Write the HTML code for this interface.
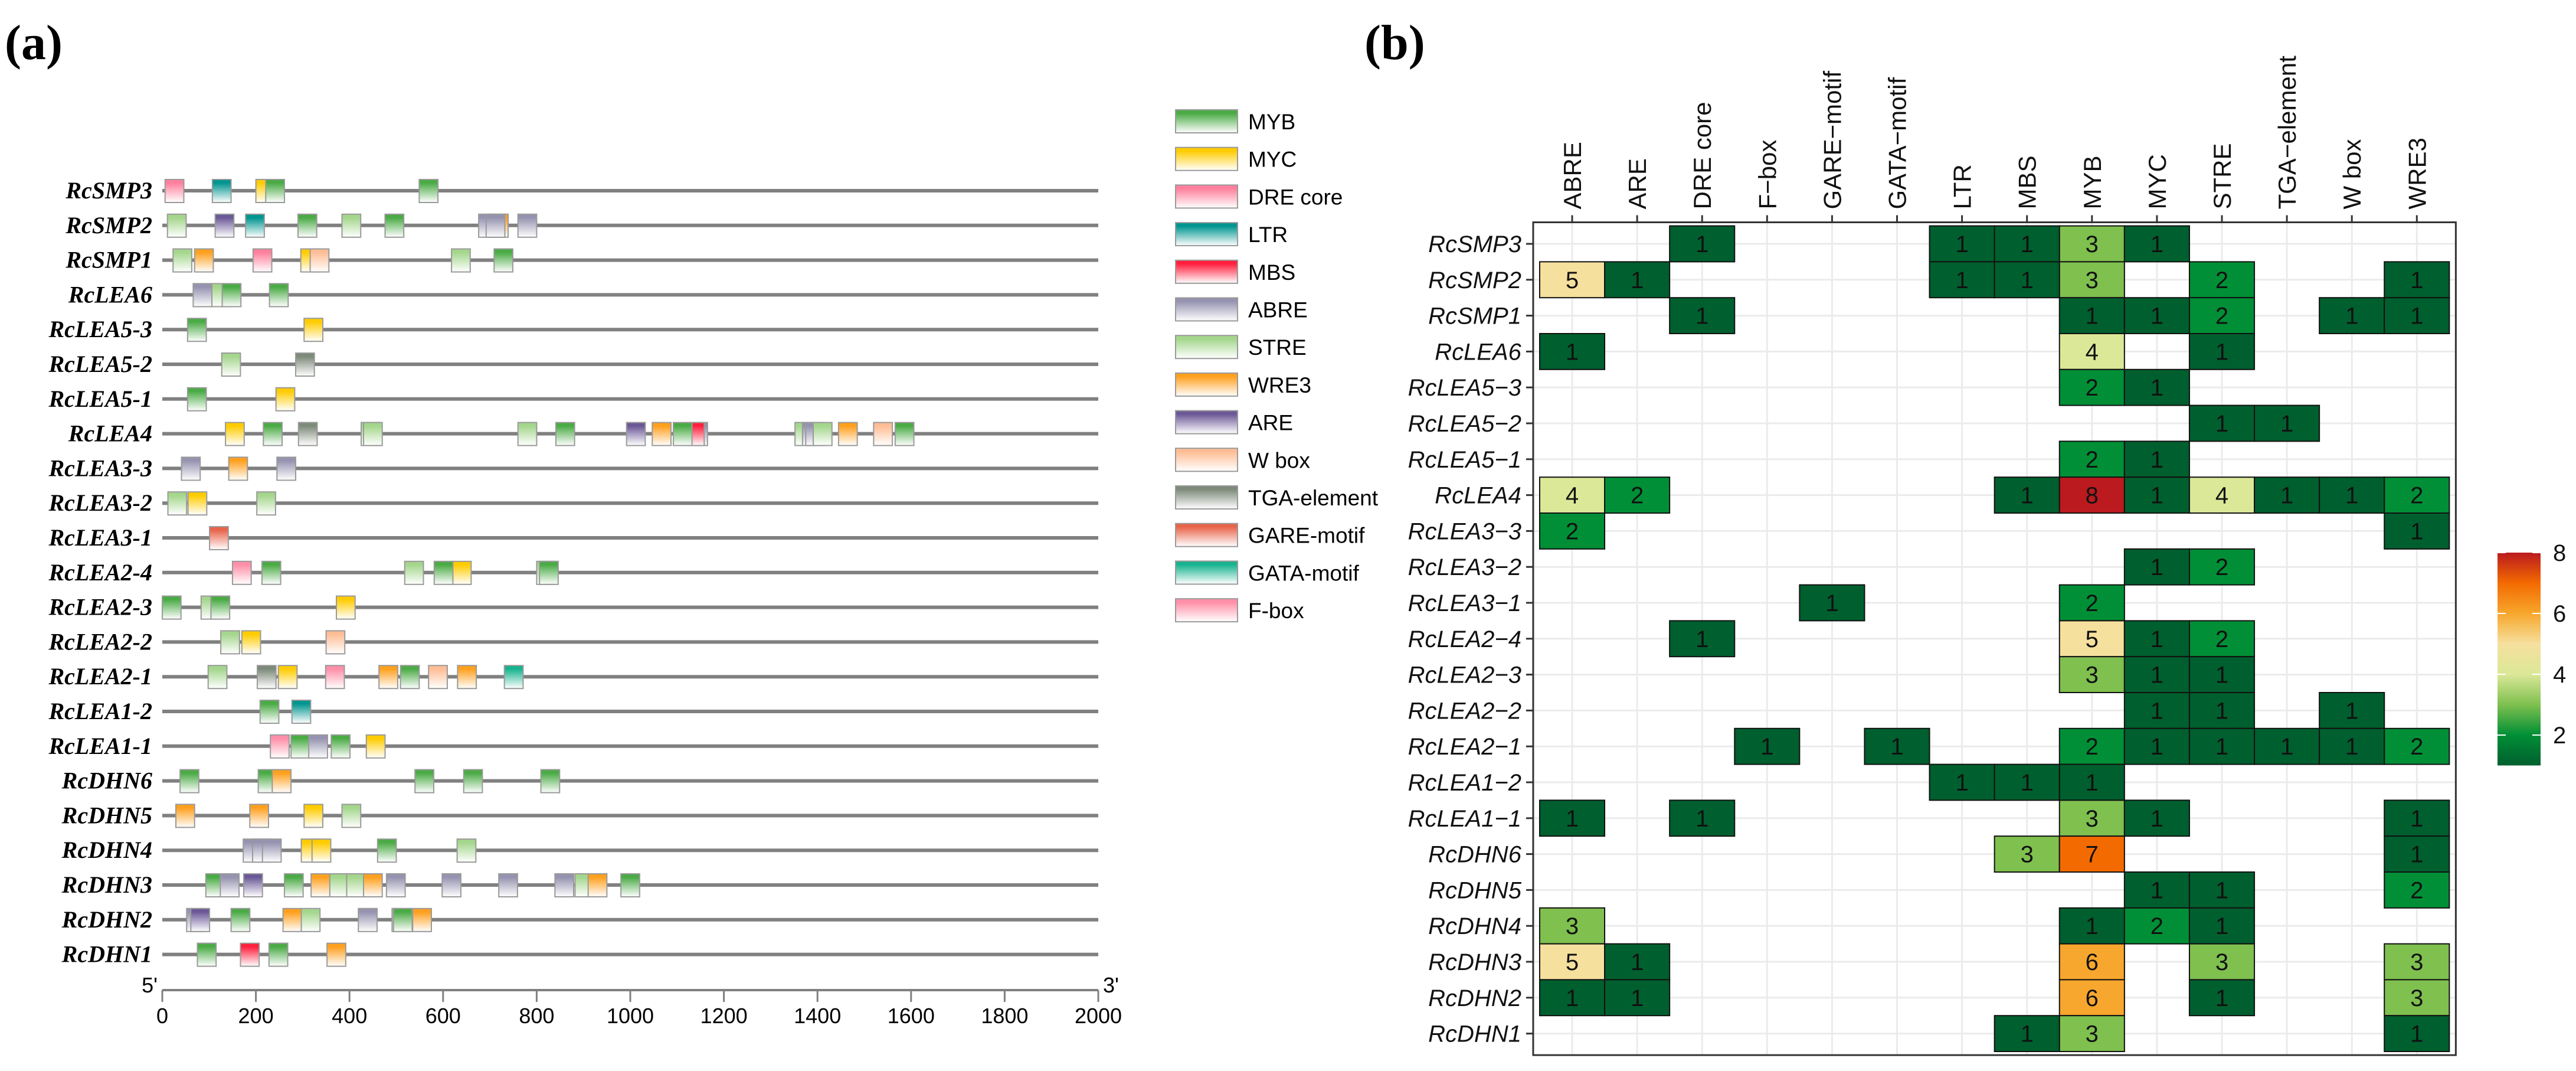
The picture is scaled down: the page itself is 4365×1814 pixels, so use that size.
<!DOCTYPE html>
<html><head><meta charset="utf-8"><style>
html,body{margin:0;padding:0;background:#fff}
svg{display:block}
.sans{font-family:"Liberation Sans",Arial,sans-serif}
.serif{font-family:"Liberation Serif","Times New Roman",serif}
</style></head><body>
<svg id="fig" width="4365" height="1814" viewBox="0 0 4365 1814" xmlns="http://www.w3.org/2000/svg">
<rect x="0" y="0" width="4365" height="1814" fill="#ffffff"/>
<defs id="defs"></defs>
<text x="8" y="100" class="serif" font-size="84" font-weight="bold">(a)</text>
<text x="2312" y="100" class="serif" font-size="84" font-weight="bold">(b)</text>
<g id="panelA"></g>
<g id="legendA"></g>
<g id="panelB"></g>
<g id="cbar"></g>
</svg>
<script>
const NS="http://www.w3.org/2000/svg";
// ---------- data ----------
const genes=["RcSMP3","RcSMP2","RcSMP1","RcLEA6","RcLEA5-3","RcLEA5-2","RcLEA5-1","RcLEA4","RcLEA3-3","RcLEA3-2","RcLEA3-1","RcLEA2-4","RcLEA2-3","RcLEA2-2","RcLEA2-1","RcLEA1-2","RcLEA1-1","RcDHN6","RcDHN5","RcDHN4","RcDHN3","RcDHN2","RcDHN1"];
const motifTypes=["MYB","MYC","DRE core","LTR","MBS","ABRE","STRE","WRE3","ARE","W box","TGA-element","GARE-motif","GATA-motif","F-box"];
const motifColors=["#4aab45","#ffcc00","#ff7f9c","#00958f","#ff1f3d","#9593b0","#a4d68c","#ffa01e","#6b5897","#ffbd95","#7d8a7a","#e8644a","#16b38e","#ff8fa8"];
const axisTicks=[0,200,400,600,800,1000,1200,1400,1600,1800,2000];
const sites=[
 [["DRE core",6],["LTR",107],["MYC",200],["MYB",221],["MYB",549]],
 [["STRE",11],["ARE",113],["LTR",178],["MYB",290],["STRE",384],["MYB",476],["ABRE",676],["WRE3",699],["ABRE",692],["ABRE",760]],
 [["STRE",23],["WRE3",69],["DRE core",194],["MYC",296],["W box",316],["STRE",618],["MYB",709]],
 [["ABRE",66],["STRE",106],["MYB",128],["MYB",229]],
 [["MYB",54],["MYC",303]],
 [["STRE",127],["TGA-element",285]],
 [["MYB",54],["MYC",243]],
 [["MYC",135],["MYB",216],["TGA-element",291],["STRE",425],["STRE",430],["STRE",760],["MYB",841],["ARE",992],["WRE3",1047],["ABRE",1125],["MBS",1118],["MYB",1092],["STRE",1352],["ABRE",1368],["ABRE",1375],["STRE",1391],["WRE3",1445],["W box",1520],["MYB",1566]],
 [["ABRE",41],["WRE3",142],["ABRE",245]],
 [["STRE",12],["MYC",55],["STRE",202]],
 [["GARE-motif",101]],
 [["F-box",150],["MYB",213],["STRE",518],["MYC",620],["MYB",581],["STRE",800],["MYB",806]],
 [["MYB",0],["STRE",83],["MYB",104],["MYC",372]],
 [["STRE",125],["MYC",170],["W box",350]],
 [["STRE",98],["TGA-element",203],["MYC",248],["F-box",349],["WRE3",463],["MYB",509],["W box",569],["WRE3",631],["GATA-motif",731]],
 [["MYB",209],["LTR",277]],
 [["F-box",231],["MYB",275],["ABRE",313],["MYB",361],["MYC",436]],
 [["MYB",38],["MYB",205],["WRE3",235],["MYB",540],["MYB",644],["MYB",809]],
 [["WRE3",29],["WRE3",187],["MYC",303],["STRE",384]],
 [["ABRE",173],["ABRE",193],["ABRE",214],["MYC",297],["MYC",320],["MYB",460],["STRE",630]],
 [["MYB",93],["ABRE",124],["ARE",174],["MYB",261],["WRE3",318],["STRE",358],["STRE",394],["WRE3",430],["ABRE",479],["ABRE",598],["ABRE",719],["ABRE",839],["STRE",882],["WRE3",910],["MYB",980]],
 [["ABRE",52],["ARE",61],["MYB",147],["WRE3",258],["STRE",297],["ABRE",419],["STRE",491],["MYB",494],["WRE3",535]],
 [["MYB",75],["MBS",167],["MYB",228],["WRE3",352]]
];
const hmCols=["ABRE","ARE","DRE core","F\u2212box","GARE\u2212motif","GATA\u2212motif","LTR","MBS","MYB","MYC","STRE","TGA\u2212element","W box","WRE3"];
const hmVals=[
 [0,0,1,0,0,0,1,1,3,1,0,0,0,0],
 [5,1,0,0,0,0,1,1,3,0,2,0,0,1],
 [0,0,1,0,0,0,0,0,1,1,2,0,1,1],
 [1,0,0,0,0,0,0,0,4,0,1,0,0,0],
 [0,0,0,0,0,0,0,0,2,1,0,0,0,0],
 [0,0,0,0,0,0,0,0,0,0,1,1,0,0],
 [0,0,0,0,0,0,0,0,2,1,0,0,0,0],
 [4,2,0,0,0,0,0,1,8,1,4,1,1,2],
 [2,0,0,0,0,0,0,0,0,0,0,0,0,1],
 [0,0,0,0,0,0,0,0,0,1,2,0,0,0],
 [0,0,0,0,1,0,0,0,2,0,0,0,0,0],
 [0,0,1,0,0,0,0,0,5,1,2,0,0,0],
 [0,0,0,0,0,0,0,0,3,1,1,0,0,0],
 [0,0,0,0,0,0,0,0,0,1,1,0,1,0],
 [0,0,0,1,0,1,0,0,2,1,1,1,1,2],
 [0,0,0,0,0,0,1,1,1,0,0,0,0,0],
 [1,0,1,0,0,0,0,0,3,1,0,0,0,1],
 [0,0,0,0,0,0,0,3,7,0,0,0,0,1],
 [0,0,0,0,0,0,0,0,0,1,1,0,0,2],
 [3,0,0,0,0,0,0,0,1,2,1,0,0,0],
 [5,1,0,0,0,0,0,0,6,0,3,0,0,3],
 [1,1,0,0,0,0,0,0,6,0,1,0,0,3],
 [0,0,0,0,0,0,0,1,3,0,0,0,0,1]
];
const cbTicks=[2,4,6,8];
const palette=["#005f2e","#008f36","#7fc04f","#dbe898","#f6e09e","#f7a72d","#f36a00","#bb1a1f"];

// ---------- helpers ----------
function mk(tag,attrs,parent){const e=document.createElementNS(NS,tag);for(const k in attrs)e.setAttribute(k,attrs[k]);parent.appendChild(e);return e;}
const defsEl=document.getElementById('defs');
motifTypes.forEach((t,i)=>{
  const g=mk('linearGradient',{id:'g'+i,x1:0,y1:0,x2:0,y2:1},defsEl);
  mk('stop',{offset:'0','stop-color':motifColors[i]},g);
  mk('stop',{offset:'0.15','stop-color':motifColors[i]},g);
  mk('stop',{offset:'1','stop-color':'#ffffff'},g);
});
// ---------- panel A ----------
const A=document.getElementById('panelA');
const ax0=275, ax1=1861, bpMax=2000;
const xA=bp=>ax0+bp*(ax1-ax0)/bpMax;
const yA=i=>323+i*58.8;
const boxBp=40;
genes.forEach((gname,i)=>{
  const y=yA(i);
  const t=mk('text',{x:258,y:y+13,'text-anchor':'end','font-size':40,'font-weight':'bold','font-style':'italic',class:'serif'},A);
  t.textContent=gname;
  
  
  const ln=mk('line',{x1:ax0,x2:ax1,y1:y,y2:y,stroke:'#808080','stroke-width':6},A);
  
  
  sites[i].forEach(s=>{
    const k=motifTypes.indexOf(s[0]);
    const r=mk('rect',{x:xA(s[1]),y:y-19,width:xA(boxBp)-ax0,height:39,fill:'url(#g'+k+')',stroke:'#9a9a9a','stroke-width':2},A);
    
    
  });
});
const axisY=1677;
const axl=mk('line',{x1:ax0,x2:ax1,y1:axisY,y2:axisY,stroke:'#808080','stroke-width':4},A);


axisTicks.forEach(v=>{
  const tk=mk('line',{x1:xA(v),x2:xA(v),y1:axisY,y2:axisY+20,stroke:'#808080','stroke-width':3},A);
  
  
  const tl=mk('text',{x:xA(v),y:axisY+56,'text-anchor':'middle','font-size':36,class:'sans'},A);
  tl.textContent=v;
  
  
});
const p5=mk('text',{x:ax0-8,y:axisY+4,'text-anchor':'end','font-size':36,class:'sans'},A);p5.textContent="5'";


const p3=mk('text',{x:ax1+8,y:axisY+4,'font-size':36,class:'sans'},A);p3.textContent="3'";


// legend
const L=document.getElementById('legendA');
motifTypes.forEach((t,i)=>{
  const y=186+i*63.7;
  const r=mk('rect',{x:1992,y:y,width:105,height:39,fill:'url(#g'+i+')',stroke:'#9a9a9a','stroke-width':2},L);
  
  
  const tx=mk('text',{x:2115,y:y+33,'font-size':37,class:'sans'},L);
  tx.textContent=t;
  
  
});
// ---------- panel B ----------
const B=document.getElementById('panelB');
const cw=110.1, rh=60.8;
const xH=j=>2664+j*cw, yH=i=>413+i*rh;
const hmLeft=xH(0)-0.6*cw, hmRight=xH(hmCols.length-1)+0.6*cw, hmTop=yH(0)-0.6*rh, hmBot=yH(genes.length-1)+0.6*rh;
const bg=mk('rect',{x:hmLeft,y:hmTop,width:hmRight-hmLeft,height:hmBot-hmTop,fill:'#ffffff'},B);


hmCols.forEach((c,j)=>{
  const gl=mk('line',{x1:xH(j),x2:xH(j),y1:hmTop,y2:hmBot,stroke:'#ebebeb','stroke-width':3},B);
  
  
});
genes.forEach((g,i)=>{
  const gl=mk('line',{x1:hmLeft,x2:hmRight,y1:yH(i),y2:yH(i),stroke:'#ebebeb','stroke-width':3},B);
  
  
});
hmVals.forEach((row,i)=>row.forEach((v,j)=>{
  if(!v)return;
  const r=mk('rect',{x:xH(j)-cw/2,y:yH(i)-rh/2,width:cw,height:rh,fill:palette[v-1],stroke:'#111','stroke-width':2},B);
  
  
  const t=mk('text',{x:xH(j),y:yH(i)+14,'text-anchor':'middle','font-size':40,class:'sans',fill:'#111'},B);
  t.textContent=v;
  
  
}));
const fr=mk('rect',{x:hmLeft,y:hmTop,width:hmRight-hmLeft,height:hmBot-hmTop,fill:'none',stroke:'#333','stroke-width':3},B);


hmCols.forEach((c,j)=>{
  const tk=mk('line',{x1:xH(j),x2:xH(j),y1:hmTop-12,y2:hmTop,stroke:'#333','stroke-width':3},B);
  
  
  const t=mk('text',{x:0,y:0,transform:'translate('+(xH(j)+15)+','+(hmTop-22)+') rotate(-90)','font-size':42,class:'sans',fill:'#111'},B);
  t.textContent=c;
  
  
});
genes.forEach((g,i)=>{
  const tk=mk('line',{x1:hmLeft-12,x2:hmLeft,y1:yH(i),y2:yH(i),stroke:'#333','stroke-width':3},B);
  
  
  const t=mk('text',{x:hmLeft-20,y:yH(i)+14,'text-anchor':'end','font-size':40,'font-style':'italic',class:'sans',fill:'#111'},B);
  t.textContent=g.replace('-','\u2212');
  
  
});
// ---------- colorbar ----------
const C=document.getElementById('cbar');
const cbX=4232, cbW=73, cbTop=936, cbUnit=51.5, cbMin=1, cbMax=8;
const yC=v=>cbTop+(cbMax-v)*cbUnit;
const cg=mk('linearGradient',{id:'cbg',x1:0,y1:1,x2:0,y2:0},defsEl);
palette.forEach((c,k)=>mk('stop',{offset:(k/(palette.length-1)).toFixed(3),'stop-color':c},cg));
const cr=mk('rect',{x:cbX,y:yC(cbMax),width:cbW,height:yC(cbMin)-yC(cbMax),fill:'url(#cbg)'},C);


cbTicks.forEach(v=>{
  const a=mk('line',{x1:cbX,x2:cbX+14,y1:yC(v),y2:yC(v),stroke:'#fff','stroke-width':2},C);
  
  
  const b=mk('line',{x1:cbX+cbW-14,x2:cbX+cbW,y1:yC(v),y2:yC(v),stroke:'#fff','stroke-width':2},C);
  
  
  const t=mk('text',{x:4326,y:yC(v)+14,'font-size':40,class:'sans',fill:'#111'},C);
  t.textContent=v;
  
  
});
</script>
</body></html>
